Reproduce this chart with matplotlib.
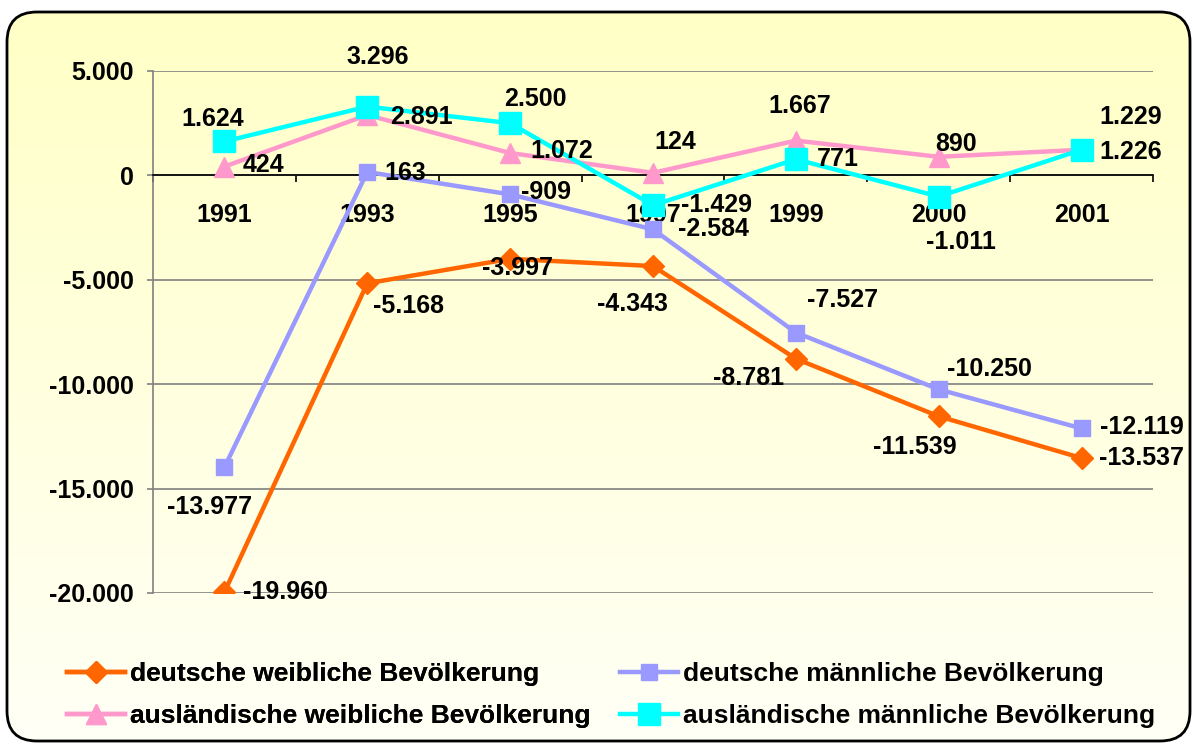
import numpy as np
import matplotlib
matplotlib.use("Agg")
import matplotlib.pyplot as plt
from matplotlib.patches import FancyBboxPatch
from matplotlib.colors import LinearSegmentedColormap
from matplotlib.ticker import FixedLocator, FuncFormatter, NullFormatter

plt.rcParams['font.family'] = ['Liberation Sans', 'DejaVu Sans']
plt.rcParams['font.weight'] = 'bold'

years = ["1991", "1993", "1995", "1997", "1999", "2000", "2001"]
deutsch_w = [-19960, -5168, -3997, -4343, -8781, -11539, -13537]
deutsch_m = [-13977, 163, -909, -2584, -7527, -10250, -12119]
ausl_w = [424, 2891, 1072, 124, 1667, 890, 1229]
ausl_m = [1624, 3296, 2500, -1429, 771, -1011, 1226]

names = ["deutsche weibliche Bevölkerung", "deutsche männliche Bevölkerung",
         "ausländische weibliche Bevölkerung", "ausländische männliche Bevölkerung"]

# label offsets in pixels (dx right, dy down)
off_dw = [(61, 0), (41, 23), (7, 9), (-21, 38), (-47, 19), (-24, 31), (60, 0)]
off_dm = [(-15, 40), (38, 1), (36, -2), (60, 0), (47, -33), (51, -20), (60, -1)]
off_aw = [(39, -2), (54, 2), (52, -2), (22, -31), (4, -35), (17, -13), (49, -33)]
off_am = [(-12, -22), (10, -50), (25, -24), (64, 0), (42, 0), (22, 45), (49, 2)]

FS = 18


def fmt(v, pos=None):
    return f"{int(v):,}".replace(",", ".")


W, H = 1193, 745
fig = plt.figure(figsize=(W / 100, H / 100), dpi=100)

# background with rounded frame and gradient
bg = fig.add_axes([0, 0, 1, 1])
bg.set_xlim(0, W)
bg.set_ylim(H, 0)
bg.axis("off")
frame = FancyBboxPatch((7, 12), 1183, 729, boxstyle="round,pad=0,rounding_size=30",
                       facecolor="none", edgecolor="black", linewidth=2, zorder=3)
bg.add_patch(frame)
cmap = LinearSegmentedColormap.from_list("bgy", ["#FFFFC6", "#FFFFF6"])
grad = np.linspace(0, 1, 256).reshape(-1, 1)
im = bg.imshow(grad, extent=[7, 1190, 741, 12], aspect="auto", cmap=cmap, zorder=1)
im.set_clip_path(frame)

ax = fig.add_axes([153 / W, 1 - 593 / H, 1000 / W, (593 - 71) / H])
ax.patch.set_alpha(0)
x = np.arange(len(years))

series = [
    (deutsch_w, "#FF6600", "D", 11.5, off_dw),
    (deutsch_m, "#9999FF", "s", 11.5, off_dm),
    (ausl_w, "#FF99CC", "^", 14, off_aw),
    (ausl_m, "#00FFFF", "s", 15.5, off_am),
]
handles = []
for (vals, col, mk, ms, offs), name in zip(series, names):
    h, = ax.plot(x, vals, color=col, lw=3.2, marker=mk, markersize=ms,
                 markeredgecolor=col, label=name, zorder=3)
    handles.append(h)
    for xi, v, (dx, dy) in zip(x, vals, offs):
        ax.annotate(fmt(v), (xi, v), xytext=(dx, -dy), textcoords="offset pixels",
                    ha="center", va="center", fontsize=FS, fontweight="bold", zorder=4)

ax.set_xlim(-0.5, len(years) - 0.5)
ax.set_ylim(-20000, 5000)
ax.set_yticks(np.arange(-20000, 5001, 5000))
ax.yaxis.set_major_formatter(FuncFormatter(fmt))
ax.yaxis.grid(True, color="#808080", lw=1.2)
ax.set_axisbelow(True)

for s in ["top", "right"]:
    ax.spines[s].set_visible(False)
ax.spines["left"].set_color("#808080")
ax.spines["left"].set_linewidth(1.2)
ax.spines["bottom"].set_position(("data", 0))
ax.spines["bottom"].set_linewidth(1.2)

ax.xaxis.set_major_locator(FixedLocator(np.arange(-0.5, len(years), 1.0)))
ax.xaxis.set_major_formatter(NullFormatter())
ax.xaxis.set_minor_locator(FixedLocator(x))
ax.set_xticklabels(years, minor=True)
ax.tick_params(axis="x", which="major", length=5, width=1.2, direction="out")
ax.tick_params(axis="x", which="minor", length=0, pad=20, labelsize=FS)
ax.tick_params(axis="y", length=4.5, width=1.2, color="#808080", pad=9, labelsize=FS)

leg_kw = dict(loc="center left", frameon=False, fontsize=19, handlelength=2.2,
              handletextpad=0.2, borderpad=0, borderaxespad=0, labelspacing=0.7)
leg1 = fig.legend([handles[0], handles[2]], [names[0], names[2]],
                  bbox_to_anchor=(67 / W, 1 - 695 / H), **leg_kw)
fig.add_artist(leg1)
fig.legend([handles[1], handles[3]], [names[1], names[3]],
           bbox_to_anchor=(620 / W, 1 - 695 / H), **leg_kw)

fig.savefig("out.png", dpi=100)
